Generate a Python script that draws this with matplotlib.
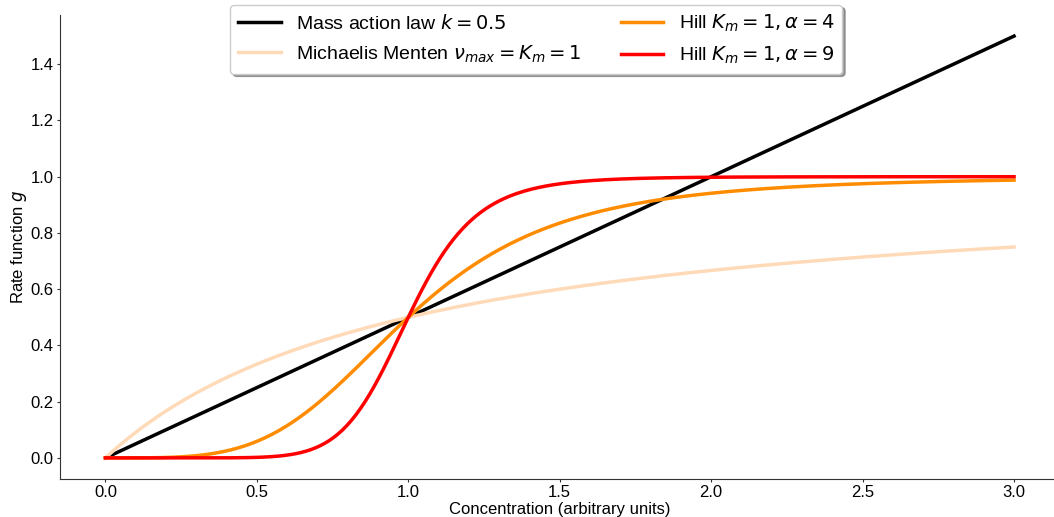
import matplotlib
matplotlib.use("Agg")
import matplotlib.pyplot as plt
import numpy as np

plt.rcParams['font.family'] = ['Liberation Sans', 'DejaVu Sans']
plt.rcParams['mathtext.fontset'] = 'dejavusans'

# model parameters
k_mass = 0.5
v_max = 1.0
K_m = 1.0
hill_alphas = [4, 9]

labels = [
    r'Mass action law $k = 0.5$',
    r'Michaelis Menten $\nu_{max} = K_m = 1$',
    r'Hill $K_m = 1, \alpha = 4$',
    r'Hill $K_m = 1, \alpha = 9$',
]
colors = ['black', '#ffdab9', '#ff8c00', 'red']

x_ticks = [0.0, 0.5, 1.0, 1.5, 2.0, 2.5, 3.0]
y_ticks = [0.0, 0.2, 0.4, 0.6, 0.8, 1.0, 1.2, 1.4]

conc = np.linspace(0, 3, 400)
curves = [
    k_mass * conc,
    v_max * conc / (K_m + conc),
    conc ** hill_alphas[0] / (K_m ** hill_alphas[0] + conc ** hill_alphas[0]),
    conc ** hill_alphas[1] / (K_m ** hill_alphas[1] + conc ** hill_alphas[1]),
]

fig = plt.figure(figsize=(10.54, 5.17), dpi=100)
ax = fig.add_axes([0.0569, 0.0735, 0.9483, 0.8975])

for y, c, lab in zip(curves, colors, labels):
    ax.plot(conc, y, color=c, lw=2.5, label=lab)

ax.set_xlim(-0.15, 3.15)
ax.set_ylim(-0.075, 1.575)
ax.set_xticks(x_ticks)
ax.set_yticks(y_ticks)
ax.tick_params(labelsize=12, color='#333333', length=2.3, pad=2.2)
ax.set_xlabel('Concentration (arbitrary units)', fontsize=12, labelpad=1)
ax.set_ylabel('Rate function $g$', fontsize=12, labelpad=1)

for s in ['top', 'right']:
    ax.spines[s].set_visible(False)
for s in ['left', 'bottom']:
    ax.spines[s].set_color('#333333')

ax.legend(loc='upper center', bbox_to_anchor=(0.4765, 1.022), ncol=2,
          fontsize=14, shadow=True, fancybox=True, columnspacing=2.0,
          handlelength=2.2, labelspacing=0.55, borderaxespad=0)

fig.savefig('out.png', dpi=100)
